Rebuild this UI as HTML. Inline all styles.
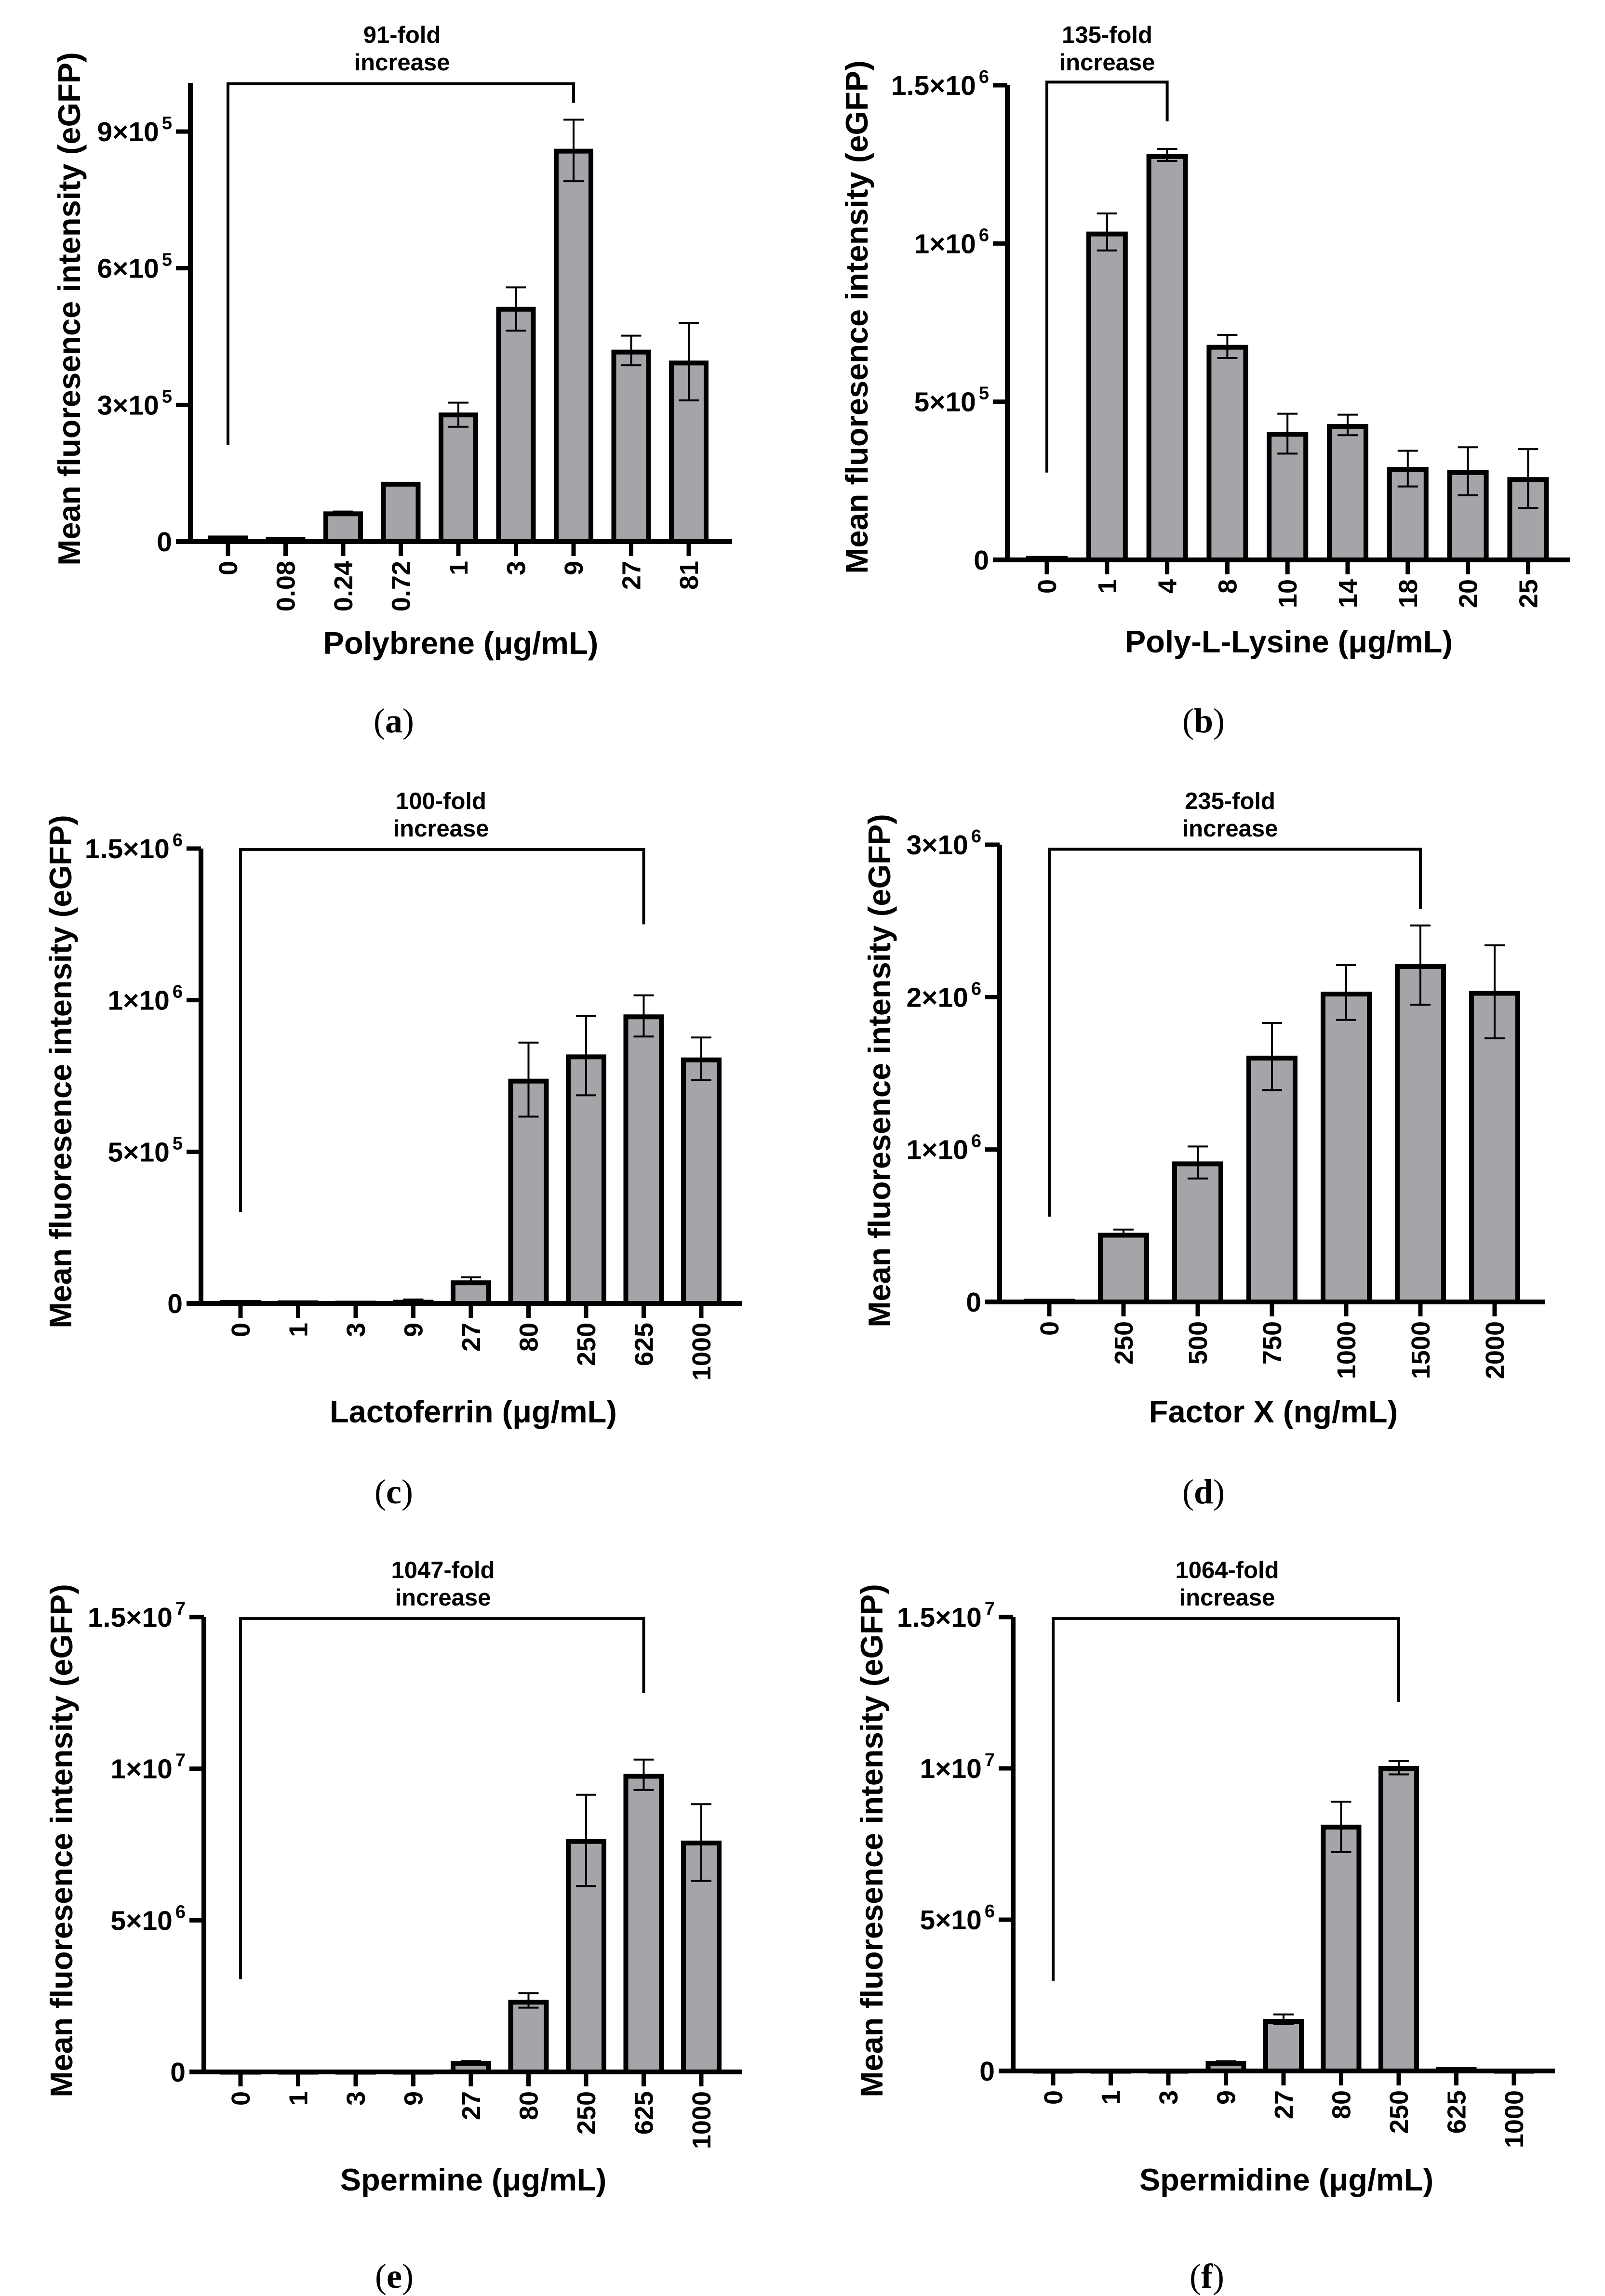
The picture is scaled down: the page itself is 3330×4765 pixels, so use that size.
<!DOCTYPE html>
<html><head><meta charset="utf-8"><style>
html,body{margin:0;padding:0;background:#fff;}
svg{display:block;}
text{font-family:"Liberation Sans",Arial,sans-serif;font-weight:bold;fill:#000;}
.pl{font-family:"Liberation Serif",serif;font-weight:normal;}
</style></head><body>
<svg id="fig" xmlns="http://www.w3.org/2000/svg" width="3330" height="4765" viewBox="0 0 3330 4765"></svg>
<script>
// ---- data ----
const catsA = ["0","0.08","0.24","0.72","1","3","9","27","81"];
const valsA = [8e3,5e3,6.1e4,1.26e5,2.78e5,5.1e5,8.57e5,4.16e5,3.92e5];
const hiA = [null,null,6.6e4,1.29e5,3.05e5,5.58e5,9.26e5,4.52e5,4.8e5];
const loA = [null,null,null,null,2.52e5,4.63e5,7.91e5,3.87e5,3.1e5];
const ticksA = [0,3e5,6e5,9e5];
const tickLabA = [["0",""],["3×10","5"],["6×10","5"],["9×10","5"]];

const catsB = ["0","1","4","8","10","14","18","20","25"];
const valsB = [5e3,1.03e6,1.275e6,6.72e5,3.97e5,4.22e5,2.86e5,2.76e5,2.54e5];
const hiB = [null,1.095e6,1.299e6,7.11e5,4.62e5,4.59e5,3.45e5,3.56e5,3.5e5];
const loB = [null,9.78e5,1.261e6,6.38e5,3.36e5,3.94e5,2.32e5,2.04e5,1.64e5];
const ticksB = [0,5e5,1e6,1.5e6];
const tickLabB = [["0",""],["5×10","5"],["1×10","6"],["1.5×10","6"]];

const catsC = ["0","1","3","9","27","80","250","625","1000"];
const valsC = [3e3,2e3,1e3,4e3,6.8e4,7.33e5,8.13e5,9.45e5,8.03e5];
const hiC = [null,null,null,1.3e4,8.6e4,8.6e5,9.48e5,1.016e6,8.77e5];
const loC = [null,null,null,null,null,6.16e5,6.86e5,8.8e5,7.36e5];
const ticksC = [0,5e5,1e6,1.5e6];
const tickLabC = [["0",""],["5×10","5"],["1×10","6"],["1.5×10","6"]];

const catsD = ["0","250","500","750","1000","1500","2000"];
const valsD = [5e3,4.38e5,9.06e5,1.6e6,2.02e6,2.2e6,2.025e6];
const hiD = [null,4.75e5,1.02e6,1.83e6,2.21e6,2.47e6,2.34e6];
const loD = [null,null,8.1e5,1.39e6,1.85e6,1.95e6,1.73e6];
const ticksD = [0,1e6,2e6,3e6];
const tickLabD = [["0",""],["1×10","6"],["2×10","6"],["3×10","6"]];

const catsE = ["0","1","3","9","27","80","250","625","1000"];
const valsE = [0,0,0,0,2.8e5,2.3e6,7.6e6,9.75e6,7.55e6];
const hiE = [null,null,null,null,3.6e5,2.6e6,9.14e6,1.03e7,8.83e6];
const loE = [null,null,null,null,null,2.12e6,6.13e6,9.3e6,6.3e6];
const ticksE = [0,5e6,1e7,1.5e7];
const tickLabE = [["0",""],["5×10","6"],["1×10","7"],["1.5×10","7"]];

const catsF = ["0","1","3","9","27","80","250","625","1000"];
const valsF = [0,0,0,2.5e5,1.64e6,8.06e6,1.0e7,5e4,0];
const hiF = [null,null,null,3.2e5,1.87e6,8.9e6,1.024e7,null,null];
const loF = [null,null,null,null,1.55e6,7.23e6,9.8e6,null,null];
const ticksF = [0,5e6,1e7,1.5e7];
const tickLabF = [["0",""],["5×10","6"],["1×10","7"],["1.5×10","7"]];

const foldLabels = ["91-fold","135-fold","100-fold","235-fold","1047-fold","1064-fold"];
const bracketA = [0,6,2.12e5,1.005e6,9.63e5];
const bracketB = [0,2,2.76e5,1.51e6,1.386e6];
const bracketC = [0,7,3.02e5,1.497e6,1.25e6];
const bracketD = [0,5,5.6e5,2.97e6,2.58e6];
const bracketE = [0,7,3.06e6,1.495e7,1.25e7];
const bracketF = [0,6,2.98e6,1.495e7,1.22e7];

const NS="http://www.w3.org/2000/svg";
const svg=document.getElementById('fig');
function mk(tag,attrs,parent){const e=document.createElementNS(NS,tag);for(const k in attrs)e.setAttribute(k,attrs[k]);(parent||svg).appendChild(e);return e;}

function panel(cfg){
  const g=mk('g',{});
  
  
  const yScale=v=>cfg.y0-(v/cfg.ymax)*(cfg.y0-cfg.ymaxPx);
  const xScale=i=>cfg.x1+i*cfg.step;
  cfg.vals.forEach((v,i)=>{
    const h=cfg.y0-yScale(v);
    const r=mk('rect',{x:xScale(i)-cfg.bw/2,y:yScale(v),width:cfg.bw,height:Math.max(h,0.5),fill:'#a5a4a9',stroke:'#000','stroke-width':10},g);
    
    
    const cx=xScale(i);
    if(cfg.hi[i]!=null){
      const lo=cfg.lo[i]!=null?cfg.lo[i]:v;
      const eb=mk('path',{d:`M${cx},${yScale(cfg.hi[i])}V${yScale(lo)}M${cx-21},${yScale(cfg.hi[i])}H${cx+21}`+(cfg.lo[i]!=null?`M${cx-21},${yScale(lo)}H${cx+21}`:''),stroke:'#000','stroke-width':4,fill:'none'},g);
      
      
    }
    mk('line',{x1:cx,x2:cx,y1:cfg.y0,y2:cfg.y0+30,stroke:'#000','stroke-width':9},g);
    const t=mk('text',{'font-size':54,'text-anchor':'end',transform:`translate(${cx+19},${cfg.y0+40}) rotate(-90)`},g);
    t.textContent=cfg.cats[i];
    
    
  });
  const ya=mk('line',{x1:cfg.ax,x2:cfg.ax,y1:cfg.top,y2:cfg.y0+5,stroke:'#000','stroke-width':10},g);
  
  
  const xa=mk('line',{x1:cfg.ax-30,x2:cfg.right,y1:cfg.y0,y2:cfg.y0,stroke:'#000','stroke-width':10},g);
  
  
  cfg.ticks.forEach((tv,i)=>{
    const y=yScale(tv);
    mk('line',{x1:cfg.ax-30,x2:cfg.ax,y1:y,y2:y,stroke:'#000','stroke-width':9},g);
    const t=mk('text',{x:cfg.ax-38,y:y+20,'font-size':57,'text-anchor':'end'},g);
    
    
    const a=mk('tspan',{},t);a.textContent=cfg.tickLab[i][0];
    if(cfg.tickLab[i][1]){const s=mk('tspan',{'font-size':38,dx:6,dy:-25},t);s.textContent=cfg.tickLab[i][1];}
  });
  const b=cfg.bracket;
  const bl=xScale(b[0]),br=xScale(b[1]);
  const bp=mk('path',{d:`M${bl},${yScale(b[2])}V${yScale(b[3])}H${br}V${yScale(b[4])}`,stroke:'#000','stroke-width':6,fill:'none'},g);
  
  
  const ft=mk('text',{x:cfg.fx,y:cfg.fy,'font-size':49,'text-anchor':'middle'},g);
  ft.textContent=cfg.fold;
  
  
  const ft2=mk('text',{x:cfg.fx,y:cfg.fy+57,'font-size':49,'text-anchor':'middle'},g);
  ft2.textContent='increase';
  
  
  const yt=mk('text',{'font-size':65,'text-anchor':'middle',transform:`translate(${cfg.ytx+23},${cfg.yty}) rotate(-90)`},g);
  yt.textContent='Mean fluoresence intensity (eGFP)';
  
  
  const xt=mk('text',{x:cfg.xtx,y:cfg.xty,'font-size':65,'text-anchor':'middle'},g);
  xt.textContent=cfg.xtitle;
  
  
  const pl=mk('text',{x:cfg.plx,y:cfg.ply,'font-size':72,'text-anchor':'middle',class:'pl'},g);
  
  
  const p1=mk('tspan',{},pl);p1.textContent='(';
  const p2=mk('tspan',{'font-weight':'bold'},pl);p2.textContent=cfg.id;
  const p3=mk('tspan',{},pl);p3.textContent=')';
}

panel({id:'a',cats:catsA,vals:valsA,hi:hiA,lo:loA,ticks:ticksA,tickLab:tickLabA,bracket:bracketA,fold:foldLabels[0],
  y0:1124,ymax:9e5,ymaxPx:273,top:172,ax:395,right:1519,x1:473,step:119.5,bw:72,fx:834,fy:89,
  ytx:143,yty:641,xtx:956,xty:1357,xtitle:'Polybrene (μg/mL)',plx:817,ply:1520});
panel({id:'b',cats:catsB,vals:valsB,hi:hiB,lo:loB,ticks:ticksB,tickLab:tickLabB,bracket:bracketB,fold:foldLabels[1],
  y0:1162,ymax:1.5e6,ymaxPx:177,top:177,ax:2090,right:3258,x1:2172,step:124.8,bw:76,fx:2297,fy:89,
  ytx:1777,yty:658,xtx:2674,xty:1354,xtitle:'Poly-L-Lysine (μg/mL)',plx:2497,ply:1520});
panel({id:'c',cats:catsC,vals:valsC,hi:hiC,lo:loC,ticks:ticksC,tickLab:tickLabC,bracket:bracketC,fold:foldLabels[2],
  y0:2705,ymax:1.5e6,ymaxPx:1761,top:1761,ax:417,right:1540,x1:499,step:119.5,bw:74,fx:915,fy:1679,
  ytx:125,yty:2224,xtx:982,xty:2952,xtitle:'Lactoferrin (μg/mL)',plx:817,ply:3120});
panel({id:'d',cats:catsD,vals:valsD,hi:hiD,lo:loD,ticks:ticksD,tickLab:tickLabD,bracket:bracketD,fold:foldLabels[3],
  y0:2702,ymax:3e6,ymaxPx:1753,top:1753,ax:2074,right:3205,x1:2177,step:154,bw:96,fx:2552,fy:1679,
  ytx:1824,yty:2222,xtx:2642,xty:2952,xtitle:'Factor X (ng/mL)',plx:2497,ply:3120});
panel({id:'e',cats:catsE,vals:valsE,hi:hiE,lo:loE,ticks:ticksE,tickLab:tickLabE,bracket:bracketE,fold:foldLabels[4],
  y0:4300,ymax:1.5e7,ymaxPx:3356,top:3356,ax:423,right:1540,x1:499,step:119.5,bw:74,fx:919,fy:3275,
  ytx:127,yty:3820,xtx:982,xty:4546,xtitle:'Spermine (μg/mL)',plx:818,ply:4748});
panel({id:'f',cats:catsF,vals:valsF,hi:hiF,lo:loF,ticks:ticksF,tickLab:tickLabF,bracket:bracketF,fold:foldLabels[5],
  y0:4298,ymax:1.5e7,ymaxPx:3356,top:3356,ax:2102,right:3226,x1:2185,step:119.5,bw:74,fx:2546,fy:3275,
  ytx:1808,yty:3820,xtx:2669,xty:4546,xtitle:'Spermidine (μg/mL)',plx:2504,ply:4748});
</script>
</body></html>
